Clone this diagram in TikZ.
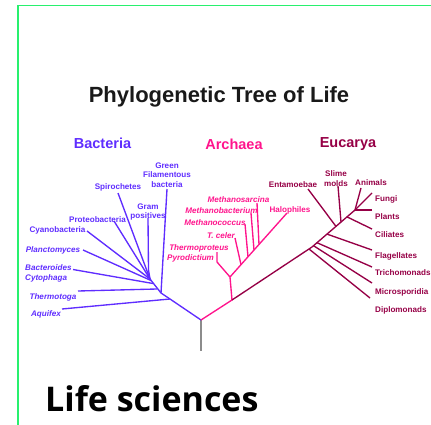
\documentclass[tikz,border=0pt]{standalone}
\usepackage{fontspec}
\setmainfont{Liberation Sans}
\newfontfamily\lifefont{Open Sans}
\definecolor{bact}{RGB}{95,45,255}
\definecolor{arch}{RGB}{255,20,140}
\definecolor{euk}{RGB}{150,0,70}
\definecolor{framegreen}{RGB}{40,240,110}
\definecolor{stemgray}{RGB}{140,140,140}
\begin{document}
\begin{tikzpicture}[x=1pt,y=-1pt,
  lbl/.style={font=\fontsize{8.1}{9.5}\selectfont\bfseries, inner sep=0pt},
  blab/.style={lbl,text=bact},
  alab/.style={lbl,text=arch},
  elab/.style={lbl,text=euk},
  ital/.style={font=\fontsize{8.1}{9.5}\selectfont\bfseries\itshape},
  hdr/.style={font=\fontsize{14.5}{16}\selectfont\bfseries, inner sep=0pt},
  bline/.style={draw=bact,line width=1.35pt},
  aline/.style={draw=arch,line width=1.35pt},
  eline/.style={draw=euk,line width=1.35pt}]
\useasboundingbox (0,0) rectangle (431,425);
% frame
\draw[framegreen,line width=1.6pt] (18,425) -- (18,5.5) -- (431,5.5);
% titles
\node[font=\fontsize{22}{24}\selectfont\bfseries, text=black!90, inner sep=0pt] (title) at (219,97) {Phylogenetic Tree of Life};
\node[hdr,text=bact] (hb) at (102.5,143.5) {Bacteria};
\node[hdr,text=arch] (ha) at (234,144) {Archaea};
\node[hdr,text=euk] (he) at (348,144) {Eucarya};
\node[font=\lifefont\fontsize{34}{36}\selectfont\bfseries, anchor=base west, inner sep=0pt] (life) at (45,411) {Life sciences};

% root
\coordinate (R) at (201,320);
\coordinate (Rb) at (201,351);
\draw[stemgray,line width=2pt] (R) -- (Rb);

% ---------------- Bacteria ----------------
\coordinate (B1) at (150,279);
\coordinate (B2) at (161,293);
\coordinate (Baq) at (170,299);
\draw[bline] (R) -- (Baq) -- (B2) -- (B1);
\node[blab,align=center] (gfb) at (167,175) {Green\\Filamentous\\bacteria};
\node[blab] (spiro) at (118,187.5) {Spirochetes};
\node[blab,align=center] (gram) at (148,212) {Gram\\positives};
\node[blab] (proteo) at (97.5,219.5) {Proteobacteria};
\node[blab] (cyano) at (57.5,230.5) {Cyanobacteria};
\node[blab,ital] (plancto) at (53,250) {Planctomyces};
\node[blab,ital,align=left,anchor=north west] (bacto) at (25,264.5) {Bacteroides\\Cytophaga};
\node[blab,ital] (thermo) at (53,297) {Thermotoga};
\node[blab,ital] (aquif) at (46,314) {Aquifex};
\coordinate (gfbE) at (167,189);
\coordinate (spiroE) at (118,193);
\coordinate (gramE) at (148,218);
\coordinate (proteoE) at (114,221);
\coordinate (cyanoE) at (87,231);
\coordinate (planctoE) at (83,250);
\coordinate (bactoE) at (73,269.5);
\coordinate (thermoE) at (78,291);
\coordinate (aquifE) at (62,309);
\coordinate (Bth) at (157,289);
\draw[bline] (gfbE) -- (B2);
\draw[bline] (spiroE) -- (B1);
\draw[bline] (gramE) -- (148.5,270) -- (B1);
\draw[bline] (proteoE) -- (B1);
\draw[bline] (cyanoE) -- (B1);
\draw[bline] (planctoE) -- (151,280.5);
\draw[bline] (bactoE) -- (153,283.5);
\draw[bline] (thermoE) -- (Bth);
\draw[bline] (aquifE) -- (Baq);

% ---------------- Archaea ----------------
\coordinate (A0) at (232,300);
\coordinate (AV) at (230,277);
\coordinate (AL) at (217,262);
\coordinate (AH) at (287,213);
\draw[aline] (R) -- (A0) -- (AV);
\draw[aline] (AV) -- (AL) -- (217,252);
\draw[aline] (AV) -- (AH);
\node[alab,ital] (msar) at (238.5,200) {Methanosarcina};
\node[alab,ital] (mbac) at (221.5,211) {Methanobacterium};
\node[alab,ital] (mcoc) at (215,222.5) {Methanococcus};
\node[alab,ital] (tcel) at (221,236) {T. celer};
\node[alab,ital] (tpro) at (199,248) {Thermoproteus};
\node[alab,ital] (pyro) at (190.5,258.5) {Pyrodictium};
\node[alab] (halo) at (290,210) {Halophiles};
\draw[aline] (235,238) -- (241,264.6);
\draw[aline] (245,224) -- (248,256.8);
\draw[aline] (251,213) -- (254,250);
\draw[aline] (257,203) -- (259,244.5);

% ---------------- Eucarya ----------------
\coordinate (E1) at (312,247);
\coordinate (E3) at (355,210);
\draw[eline] (A0) -- (E1) -- (E3);
\node[elab] (ent) at (293,185) {Entamoebae};
\node[elab,align=center] (slime) at (336,178.5) {Slime\\molds};
\node[elab] (anim) at (371,183) {Animals};
\node[elab,anchor=west] (fungi) at (375,199) {Fungi};
\node[elab,anchor=west] (plants) at (375,217) {Plants};
\node[elab,anchor=west] (cil) at (375,235) {Ciliates};
\node[elab,anchor=west] (flag) at (375,256) {Flagellates};
\node[elab,anchor=west] (trich) at (375,273) {Trichomonads};
\node[elab,anchor=west] (micro) at (375,292) {Microsporidia};
\node[elab,anchor=west] (diplo) at (375,310) {Diplomonads};
\draw[eline] (308,189) -- (336,226.4);
\draw[eline] (338,186) -- (341,222.1);
\draw[eline] (361,188) -- (E3);
\draw[eline] (372,193) -- (E3);
\draw[eline] (372,210) -- (E3);
\draw[eline] (372,229) -- (347,216.9);
\draw[eline] (372,250) -- (327,234.1);
\draw[eline] (372,267) -- (317,242.7);
\draw[eline] (372,283) -- (313.5,245.7);
\draw[eline] (370,298) -- (309,249);
\end{tikzpicture}
\end{document}
